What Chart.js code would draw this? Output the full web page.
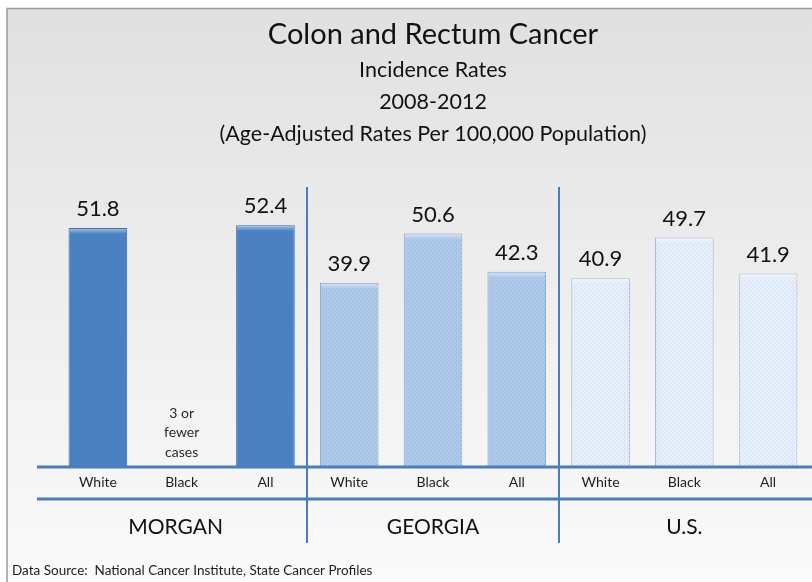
<!DOCTYPE html>
<html>
<head>
<meta charset="utf-8">
<script src="https://cdn.jsdelivr.net/npm/chart.js@4"></script>
<style>
  html, body { margin: 0; padding: 0; background: #fff; }
  #wrap { width: 812px; height: 582px; }
</style>
</head>
<body>
<div id="wrap"><canvas id="rateChart" width="812" height="582"></canvas></div>
<script>
// categories and rates, left to right: Morgan, Georgia, U.S.
var categories = ['White', 'Black', 'All', 'White', 'Black', 'All', 'White', 'Black', 'All'];
var groups = ['MORGAN', 'GEORGIA', 'U.S.'];
var rates = [51.8, null, 52.4, 39.9, 50.6, 42.3, 40.9, 49.7, 41.9];
var suppressedNote = ['3 or', 'fewer', 'cases'];
var sourceNote = 'Data Source:  National Cancer Institute, State Cancer Profiles';

var FONT = 'Lato, "Open Sans", sans-serif';
var LINE_BLUE = '#4a7dbb';

// small dotted textures for the Georgia and U.S. bars
function dotPattern(base, dot) {
    var c = document.createElement('canvas');
    c.width = 4; c.height = 4;
    var g = c.getContext('2d');
    g.fillStyle = base;
    g.fillRect(0, 0, 4, 4);
    g.fillStyle = dot;
    g.fillRect(0, 0, 1, 1);
    g.fillRect(2, 2, 1, 1);
    return g.createPattern(c, 'repeat');
}
var ctx = document.getElementById('rateChart').getContext('2d');
var georgiaFill = dotPattern('#afc9ea', '#92b2db');
var usFill = dotPattern('#e5eef9', '#c3d6ee');

var fills = categories.map(function (c, i) {
    return i < 3 ? '#4b80c3' : (i < 6 ? georgiaFill : usFill);
});
var edges = categories.map(function (c, i) {
    return i < 3 ? '#3b6cab' : (i < 6 ? '#86a5cc' : '#a9bbd3');
});

var backdrop = {
    id: 'backdrop',
    beforeDraw: function (chart) {
        var c = chart.ctx;
        c.save();
        c.fillStyle = '#ffffff';
        c.fillRect(0, 0, chart.width, chart.height);
        var g = c.createLinearGradient(0, 8, 0, chart.height);
        g.addColorStop(0, '#e0e0e0');
        g.addColorStop(0.5, '#eeeeee');
        g.addColorStop(1, '#fafafa');
        c.fillStyle = g;
        c.fillRect(7, 8, chart.width - 7, chart.height - 8);
        c.strokeStyle = '#9a9a9a';
        c.lineWidth = 1.5;
        c.beginPath();
        c.moveTo(7, chart.height);
        c.lineTo(7, 8.5);
        c.lineTo(chart.width, 8.5);
        c.stroke();
        c.restore();
    }
};

var annotations = {
    id: 'annotations',
    afterDatasetsDraw: function (chart) {
        var c = chart.ctx;
        var x = chart.scales.x;
        var base = chart.scales.y.getPixelForValue(0);
        var bars = chart.getDatasetMeta(0).data;
        c.save();

        // light bevel along the top of each bar
        bars.forEach(function (bar, i) {
            if (rates[i] === null) return;
            var w = bar.width;
            var g = c.createLinearGradient(0, bar.y, 0, bar.y + 6);
            g.addColorStop(0, 'rgba(255,255,255,0.55)');
            g.addColorStop(1, 'rgba(255,255,255,0)');
            c.fillStyle = g;
            c.fillRect(bar.x - w / 2 + 1, bar.y + 1, w - 2, 6);
        });

        // value labels
        c.fillStyle = '#111';
        c.textAlign = 'center';
        c.textBaseline = 'middle';
        c.font = '22px ' + FONT;
        bars.forEach(function (bar, i) {
            if (rates[i] === null) return;
            c.fillText(rates[i].toFixed(1), bar.x, bar.y - 19);
        });

        // note for the suppressed Morgan Black rate
        c.font = '14px ' + FONT;
        c.fillStyle = '#2a2a2a';
        suppressedNote.forEach(function (line, k) {
            c.fillText(line, x.getPixelForValue(1), 413 + k * 19.5);
        });

        // axis rules
        c.strokeStyle = LINE_BLUE;
        c.lineWidth = 3;
        c.beginPath();
        c.moveTo(37, base);
        c.lineTo(chart.width, base);
        c.moveTo(37, 499);
        c.lineTo(chart.width, 499);
        c.stroke();

        // group separators
        c.lineWidth = 2;
        c.beginPath();
        [2, 5].forEach(function (i) {
            var sx = Math.round((x.getPixelForValue(i) + x.getPixelForValue(i + 1)) / 2);
            c.moveTo(sx, 187);
            c.lineTo(sx, 543);
        });
        c.stroke();

        // category and group labels
        c.fillStyle = '#1e1e1e';
        c.font = '14px ' + FONT;
        categories.forEach(function (lab, i) {
            c.fillText(lab, x.getPixelForValue(i), 482);
        });
        c.fillStyle = '#111';
        c.font = '21px ' + FONT;
        groups.forEach(function (g, k) {
            c.fillText(g, x.getPixelForValue(k * 3 + 1) - (k === 0 ? 6 : 0), 527);
        });

        // source line
        c.textAlign = 'left';
        c.font = '13.5px ' + FONT;
        c.fillStyle = '#1e1e1e';
        c.fillText(sourceNote, 12, 571);
        c.restore();
    }
};

var rateChart = new Chart(ctx, {
    type: 'bar',
    data: {
        labels: categories,
        datasets: [{
            label: 'Rate',
            data: rates,
            backgroundColor: fills,
            borderColor: edges,
            borderWidth: 1,
            borderSkipped: 'bottom',
            barPercentage: 0.7,
            categoryPercentage: 1.0
        }]
    },
    options: {
        responsive: false,
        animation: false,
        layout: {
            padding: { top: 0, left: 56, right: 2, bottom: 115 }
        },
        scales: {
            x: { display: false },
            y: { display: false, min: 0, max: 60 }
        },
        plugins: {
            legend: { display: false },
            tooltip: { enabled: false },
            title: {
                display: true,
                text: 'Colon and Rectum Cancer',
                color: '#111',
                font: { family: FONT, size: 29, weight: 'normal', lineHeight: 1.2 },
                padding: { top: 17, bottom: 0 }
            },
            subtitle: {
                display: true,
                text: ['Incidence Rates', '2008-2012', '(Age-Adjusted Rates Per 100,000 Population)'],
                color: '#111',
                font: { family: FONT, size: 21.5, weight: 'normal', lineHeight: 1.5 },
                padding: { top: 2, bottom: 39.5 }
            }
        }
    },
    plugins: [backdrop, annotations]
});
</script>
</body>
</html>
